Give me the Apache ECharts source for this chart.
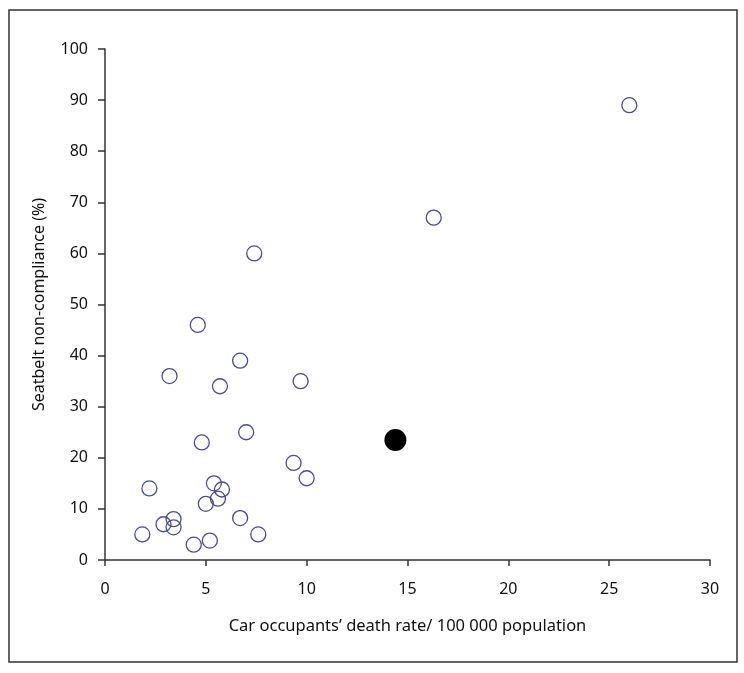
<!DOCTYPE html>
<html><head><meta charset="utf-8">
<script src="https://cdn.jsdelivr.net/npm/echarts@6/dist/echarts.min.js"></script>
<style>html,body{margin:0;padding:0;background:#fff}#c{width:744px;height:673px}</style>
</head><body><div id="c"></div>
<script>
const deathRate = [26.0, 16.3, 7.4, 4.6, 6.7, 3.2, 5.7, 9.7, 7.0, 4.8, 9.35, 10.0, 2.2, 5.4, 5.8, 5.6, 5.0, 6.7, 2.9, 3.4, 3.4, 1.85, 7.6, 4.4, 5.2];
const nonCompliance = [89, 67, 60, 46, 39, 36, 34, 35, 25, 23, 19, 16, 14, 15, 13.8, 12, 11, 8.2, 7, 8, 6.4, 5, 5, 3, 3.8];
const highlightX = [14.4];
const highlightY = [23.5];
const xTicks = [0, 5, 10, 15, 20, 25, 30];
const yTicks = [0, 10, 20, 30, 40, 50, 60, 70, 80, 90, 100];
const xTitle = 'Car occupants’ death rate/ 100 000 population';
const yTitle = 'Seatbelt non-compliance (%)';

const chart = echarts.init(document.getElementById('c'), null, {renderer: 'canvas'});
const font = '"Noto Sans", sans-serif';
const axisColor = '#333';
const textColor = '#111';
chart.setOption({
  backgroundColor: '#fff',
  animation: false,
  graphic: [{
    type: 'rect', shape: {x: 9, y: 10, width: 728, height: 652},
    style: {fill: 'none', stroke: '#333', lineWidth: 1.5}, z: 0
  }],
  grid: {left: 105, right: 34, top: 49, bottom: 113},
  xAxis: {
    type: 'value', min: xTicks[0], max: xTicks[xTicks.length - 1], interval: 5,
    name: xTitle, nameLocation: 'middle', nameGap: 58,
    nameTextStyle: {fontFamily: font, fontSize: 16.5, color: textColor},
    axisLine: {show: true, onZero: false, lineStyle: {color: axisColor, width: 1.5}},
    axisTick: {show: true, inside: false, length: 6, lineStyle: {color: axisColor, width: 1.5}},
    axisLabel: {fontFamily: font, fontSize: 16, color: textColor, margin: 21},
    splitLine: {show: false}
  },
  yAxis: {
    type: 'value', min: yTicks[0], max: yTicks[yTicks.length - 1], interval: 10,
    name: yTitle, nameLocation: 'middle', nameGap: 58, nameRotate: 90,
    nameTextStyle: {fontFamily: font, fontSize: 16, color: textColor},
    axisLine: {show: true, onZero: false, lineStyle: {color: axisColor, width: 1.5}},
    axisTick: {show: true, inside: false, length: 7, lineStyle: {color: axisColor, width: 1.5}},
    axisLabel: {fontFamily: font, fontSize: 16, color: textColor, margin: 17},
    splitLine: {show: false}
  },
  series: [{
    type: 'scatter',
    data: deathRate.map((v, i) => [v, nonCompliance[i]]),
    symbol: 'circle', symbolSize: 15,
    itemStyle: {color: 'rgba(255,255,255,0)', borderColor: '#4a4e8c', borderWidth: 1.3, opacity: 1}
  }, {
    type: 'scatter',
    data: highlightX.map((v, i) => [v, highlightY[i]]),
    symbol: 'circle', symbolSize: 22,
    itemStyle: {color: '#000', borderColor: '#000', borderWidth: 0, opacity: 1}
  }]
});
</script></body></html>
